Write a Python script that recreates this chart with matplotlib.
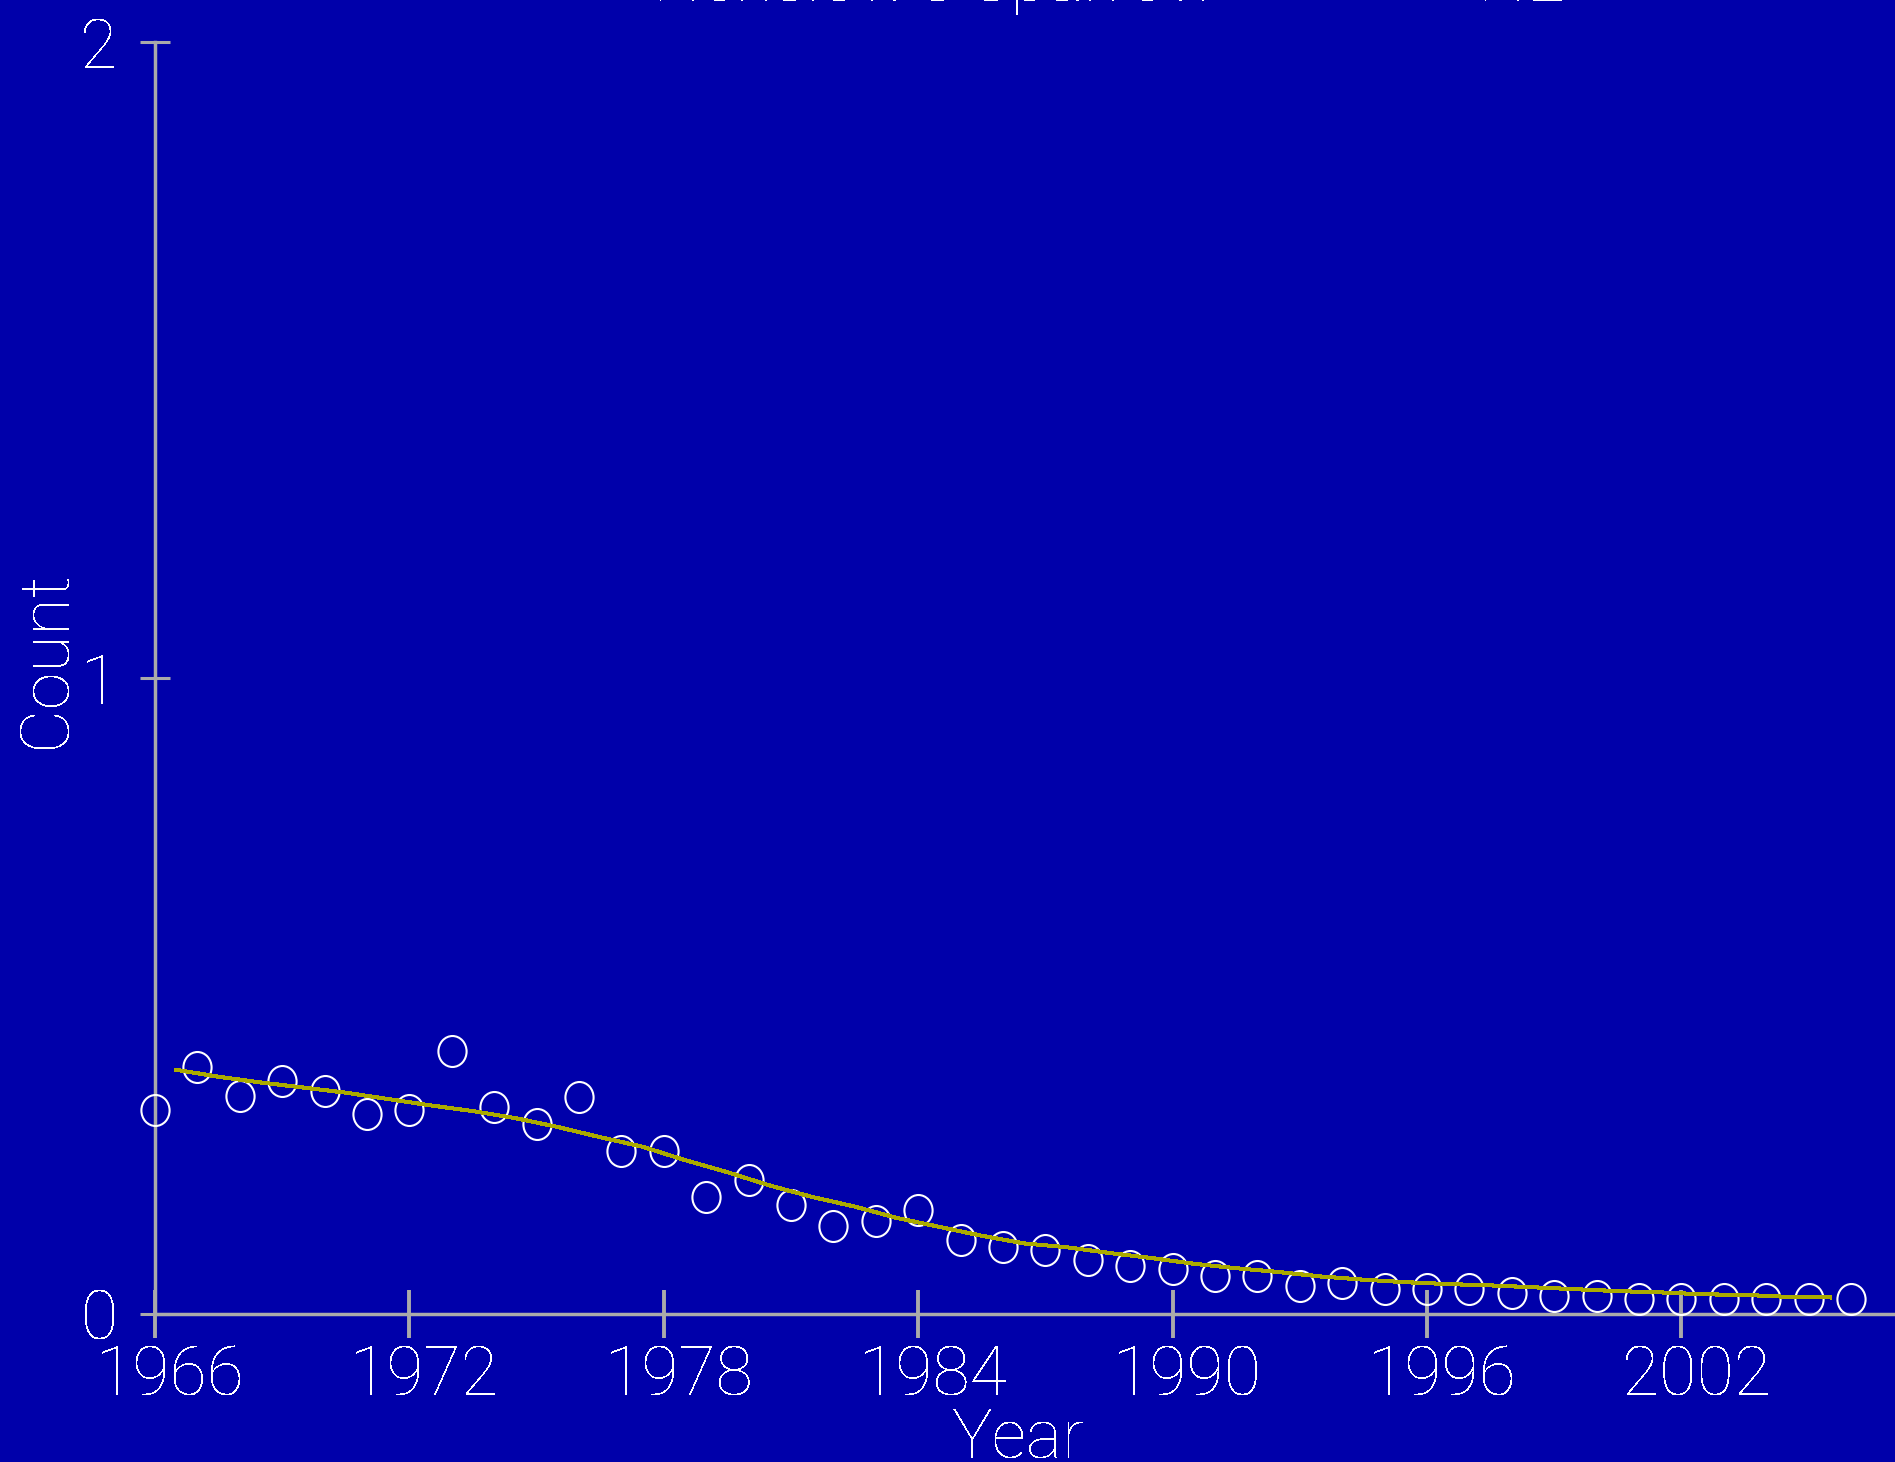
"""
Henslow's Sparrow count trend, BBS-style plot on a blue background.
"""

import numpy as np
import matplotlib
matplotlib.use("Agg")
import matplotlib.pyplot as plt
from matplotlib.path import Path
from matplotlib.transforms import Affine2D, ScaledTranslation

# observed yearly counts
years = list(range(1966, 2007))
counts = [0.320, 0.388, 0.343, 0.366, 0.351, 0.314, 0.320, 0.413, 0.325, 0.298,
          0.341, 0.257, 0.257, 0.184, 0.210, 0.172, 0.138, 0.147, 0.163, 0.116,
          0.106, 0.101, 0.085, 0.075, 0.070, 0.059, 0.059, 0.044, 0.048, 0.039,
          0.039, 0.039, 0.033, 0.028, 0.028, 0.023, 0.023, 0.023, 0.023, 0.023,
          0.023]

# smoothed trend, read at mid-years
trend_years = [y + 0.5 for y in range(1966, 2006)]
trend = [0.384, 0.373, 0.364, 0.356, 0.348, 0.338, 0.328, 0.319, 0.308, 0.294,
         0.278, 0.263, 0.242, 0.223, 0.202, 0.184, 0.169, 0.151, 0.137, 0.123,
         0.111, 0.105, 0.096, 0.088, 0.079, 0.072, 0.066, 0.059, 0.054, 0.050,
         0.047, 0.045, 0.042, 0.039, 0.036, 0.034, 0.031, 0.030, 0.027, 0.026]

x_ticks = [1966, 1972, 1978, 1984, 1990, 1996, 2002]
y_ticks = [0, 1, 2]

BG = '#0000aa'
AXIS = '#aaaaaa'
TREND = '#aaaa00'
FS = 49

plt.rcParams['font.family'] = ['Roboto', 'DejaVu Sans']
plt.rcParams['font.weight'] = 'light'
plt.rcParams['axes.labelweight'] = 'light'
plt.rcParams['text.antialiased'] = False
plt.rcParams['lines.antialiased'] = False

W, H = 1895, 1462
fig = plt.figure(figsize=(W / 100, H / 100), dpi=100, facecolor=BG)
left, bottom, top = 155, 1314, 42
ax = fig.add_axes([left / W, (H - bottom) / H, 1 - left / W, (bottom - top) / H])
ax.set_facecolor(BG)

# slightly tall ellipse as marker
oval = Affine2D().scale(0.91, 1.0).transform_path(Path.unit_circle())
ax.plot(years, counts, linestyle='none', marker=oval, markersize=22.3,
        markerfacecolor='none', markeredgecolor='white', markeredgewidth=1.5,
        clip_on=False, zorder=3)
ax.plot(trend_years, trend, color=TREND, linewidth=2.2, zorder=4)

ax.set_xlim(1966, 1966 + (W - left) / 42.4)
ax.set_ylim(0, 2)

for s in ['top', 'right']:
    ax.spines[s].set_visible(False)
for s in ['left', 'bottom']:
    ax.spines[s].set_color(AXIS)
    ax.spines[s].set_linewidth(2.5)

ax.set_xticks(x_ticks)
ax.set_yticks(y_ticks)
ax.tick_params(axis='x', direction='inout', length=34.5, width=2.8, color=AXIS,
               labelcolor='white', labelsize=FS, pad=4)
ax.tick_params(axis='y', direction='inout', length=21.6, width=2.2, color=AXIS,
               labelcolor='white', labelsize=FS, pad=16)

# year labels sit a little right of their ticks in the original
shift = ScaledTranslation(15 / 100, 0, fig.dpi_scale_trans)
for lbl in ax.get_xticklabels():
    lbl.set_transform(lbl.get_transform() + shift)

ax.set_xlabel('Year', color='white', fontsize=FS)
ax.xaxis.label.set_va('baseline')
ax.xaxis.set_label_coords((1019 - left) / (W - left), (bottom - 1457) / (bottom - top))
ax.set_ylabel('Count', color='white', fontsize=FS)
ax.yaxis.label.set_va('center')
ax.yaxis.set_label_coords((47 - left) / (W - left), (bottom - 659) / (bottom - top))

# title sits almost entirely above the top edge
fig.text(653 / W, 1 - 1 / H, "Henslow's Sparrow", color='white', fontsize=FS,
         ha='left', va='baseline')
fig.text(1478 / W, 1 - 1 / H, "NE", color='white', fontsize=FS,
         ha='left', va='baseline')

fig.savefig('out.png', dpi=100, facecolor=BG)
